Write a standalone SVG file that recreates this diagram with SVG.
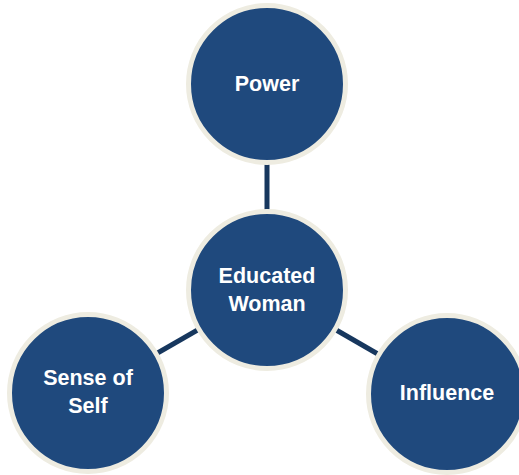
<svg xmlns="http://www.w3.org/2000/svg" width="519" height="475" viewBox="0 0 519 475">
<style>
.node circle{fill:#1F497D;stroke:#EEECE1;stroke-width:5}
.node text{fill:#FFFFFF;font-family:"Liberation Sans",Arial,sans-serif;font-weight:bold;font-size:21.5px;text-anchor:middle}
.conn line{stroke:#17375E;stroke-width:5}
</style>
<rect width="519" height="475" fill="#FFFFFF"/>
<g id="connectors" class="conn">
<line x1="267" y1="84" x2="267" y2="290"/>
<line x1="267" y1="290" x2="88" y2="393"/>
<line x1="267" y1="290" x2="447" y2="394"/>
</g>
<g id="power" class="node">
<circle cx="267" cy="84" r="78.5"/>
<text x="267" y="91">Power</text>
</g>
<g id="educated-woman" class="node">
<circle cx="267" cy="290" r="78.5"/>
<text x="267" y="283">Educated</text>
<text x="267" y="311">Woman</text>
</g>
<g id="sense-of-self" class="node">
<circle cx="88" cy="393" r="78.5"/>
<text x="88" y="385">Sense of</text>
<text x="88" y="413">Self</text>
</g>
<g id="influence" class="node">
<circle cx="447" cy="394" r="78.5"/>
<text x="447" y="400">Influence</text>
</g>
</svg>
